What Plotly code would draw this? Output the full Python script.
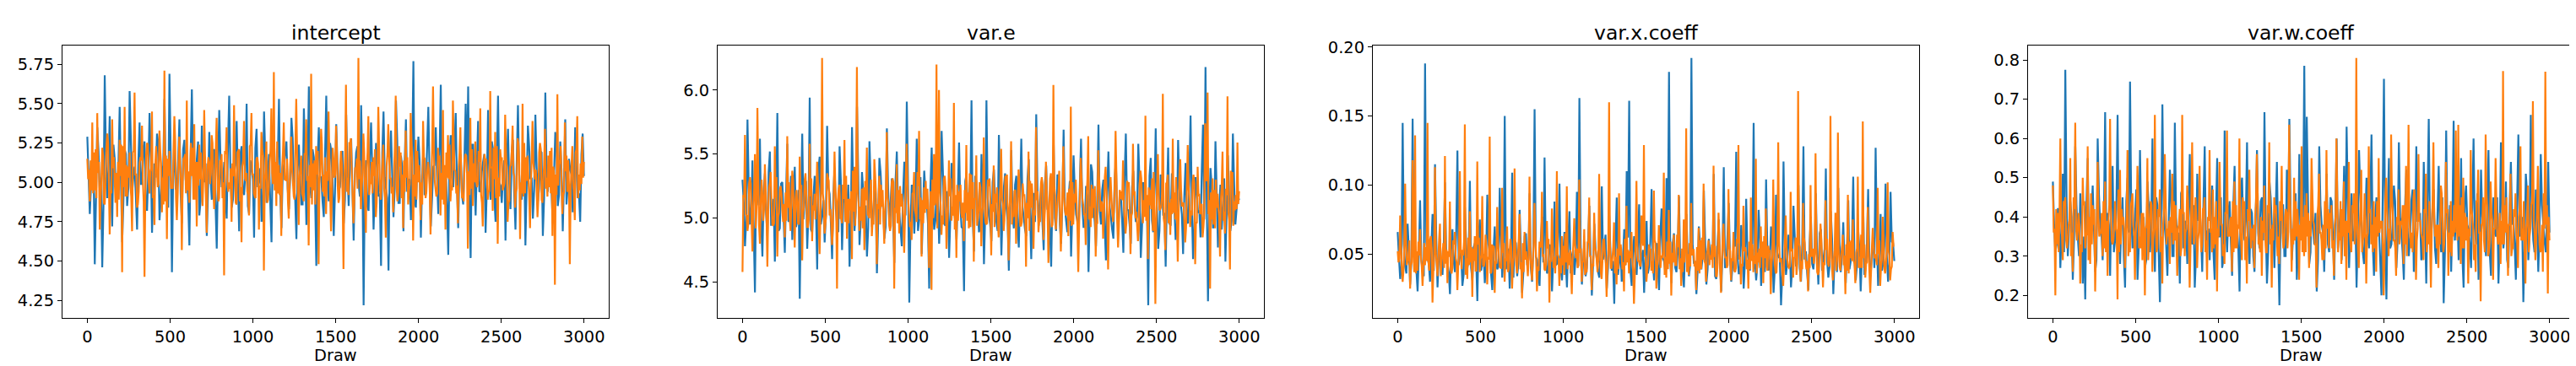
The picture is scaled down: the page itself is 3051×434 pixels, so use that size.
import numpy as np
import plotly.graph_objects as go

titles = ["intercept", "var.e", "var.x.coeff", "var.w.coeff"]
x_label = "Draw"
n_draws = 3000
x_ticks = [0, 500, 1000, 1500, 2000, 2500, 3000]

# Values. Each chain is stored as several lists holding
# interleaved readings (reading 1 from list a, reading 2 from list b, ...).
intercept_chain1_a = [
5.29, 4.80, 5.18, 4.48, 5.35, 4.95, 4.46, 5.68, 4.90, 5.42, 4.72, 5.15, 4.98, 5.48, 4.62, 5.21, 4.85, 5.58, 4.93, 5.10,
4.70, 5.38, 4.99, 5.26, 4.82, 5.44, 4.68, 5.12, 5.31, 4.76, 5.04, 5.53, 4.88, 5.69, 4.43, 5.20, 4.95, 5.40, 4.74, 5.27,
5.02, 4.60, 5.59, 4.90, 5.15, 4.79, 5.36, 5.00, 4.66, 5.32, 4.89, 5.21, 4.58, 5.46, 4.97, 5.13, 4.77, 5.55, 4.84, 5.06,
5.39, 4.69, 5.23, 4.92, 5.50, 4.80, 5.09, 4.65, 5.34, 5.01, 4.75, 5.45, 4.87, 5.18, 4.62, 5.30, 4.94, 5.53, 4.71, 5.11,
5.26, 4.83, 5.41, 4.97, 4.64, 5.24, 4.86, 5.47, 4.73, 5.61, 4.90, 5.16, 4.47, 5.35, 5.03, 4.78, 5.55, 4.88, 5.20, 4.66,
5.37, 4.95, 5.12, 4.74, 5.43, 4.85, 5.28, 4.63, 5.19, 4.99, 5.49, 4.22, 5.14, 4.82, 5.38, 4.70, 5.25, 4.91, 4.47, 5.45,
4.96, 4.44, 5.33, 4.78, 5.52, 4.87, 5.17, 4.69, 5.40, 5.01, 4.76, 5.77, 4.84, 5.29, 4.65, 5.22, 4.93, 5.48, 4.72, 5.10,
5.35, 4.80, 5.62, 4.90, 5.08, 4.54, 5.30, 4.97, 5.44, 4.71, 5.18, 4.86, 5.50, 5.61, 4.52, 5.24, 4.79, 5.39, 4.95, 5.13,
4.68, 5.46, 4.89, 5.21, 4.75, 5.55, 4.98, 5.06, 4.63, 5.34, 4.83, 5.27, 4.70, 5.49, 4.92, 5.15, 4.60, 5.36, 5.02, 4.77,
5.43, 4.88, 5.20, 4.66, 5.57, 4.94, 5.11, 4.74, 5.32, 4.85, 5.26, 4.69, 5.40, 4.97, 5.08, 4.81, 5.35, 4.90, 4.75, 5.31,
]
intercept_chain1_b = [
5.05, 4.98, 5.12, 4.90, 5.20, 5.01, 4.86, 5.15, 5.08, 4.95, 5.24, 4.92, 5.10, 5.02, 4.88, 5.18, 4.97, 5.27, 5.04, 4.91,
5.13, 4.99, 5.22, 4.87, 5.07, 5.16, 4.94, 5.03, 5.25, 4.89, 5.11, 5.00, 4.84, 5.19, 5.06, 4.96, 5.14, 4.93, 5.21, 5.02,
4.90, 5.17, 5.05, 4.98, 5.26, 4.88, 5.09, 5.12, 4.95, 5.03, 5.20, 4.86, 5.08, 5.15, 4.99, 4.92, 5.23, 5.04, 4.89, 5.11,
5.01, 5.18, 4.94, 5.07, 4.85, 5.14, 5.02, 5.22, 4.97, 5.09, 4.91, 5.16, 5.05, 4.87, 5.24, 5.00, 5.12, 4.93, 5.06, 5.19,
4.96, 5.03, 5.28, 4.90, 5.10, 5.01, 4.86, 5.15, 5.07, 4.98, 5.21, 4.92, 5.13, 5.04, 4.88, 5.17, 4.99, 5.25, 5.02, 4.94,
5.11, 4.97, 5.20, 4.89, 5.08, 5.14, 4.95, 5.05, 5.23, 4.91, 5.09, 5.01, 4.85, 5.16, 5.06, 4.98, 5.12, 4.93, 5.19, 5.03,
4.90, 5.15, 5.04, 4.96, 5.27, 4.87, 5.10, 5.13, 4.94, 5.02, 5.18, 4.88, 5.07, 5.14, 5.00, 4.92, 5.22, 5.05, 4.90, 5.11,
5.02, 5.17, 4.95, 5.08, 4.86, 5.13, 5.03, 5.21, 4.98, 5.10, 4.92, 5.15, 5.06, 4.88, 5.24, 5.01, 5.11, 4.94, 5.07, 5.18,
4.97, 5.04, 5.26, 4.91, 5.09, 5.00, 4.87, 5.14, 5.08, 4.99, 5.20, 4.93, 5.12, 5.05, 4.89, 5.16, 4.98, 5.23, 5.03, 4.95,
5.10, 4.96, 5.19, 4.90, 5.07, 5.13, 4.94, 5.04, 5.22, 4.92, 5.08, 5.02, 4.86, 5.15, 5.05, 4.97, 5.11, 4.93, 5.18, 5.04,
]
intercept_chain2_a = [
5.15, 4.88, 5.38, 4.95, 5.44, 4.70, 5.22, 4.86, 5.31, 4.67, 5.40, 5.02, 4.78, 5.27, 4.43, 5.48, 4.91, 5.19, 4.69, 5.57,
4.84, 5.12, 5.36, 4.40, 5.25, 4.93, 5.45, 4.73, 5.08, 5.33, 4.81, 5.71, 4.64, 5.20, 4.98, 5.42, 4.76, 5.29, 4.57, 5.16,
5.52, 4.87, 5.04, 5.37, 4.72, 5.24, 4.95, 5.46, 4.68, 5.13, 5.30, 4.83, 5.41, 4.90, 5.18, 4.41, 5.35, 5.00, 4.75, 5.49,
4.86, 5.21, 4.62, 5.39, 5.06, 4.79, 5.44, 4.93, 5.15, 4.70, 5.32, 4.44, 5.26, 4.97, 5.47, 5.70, 4.85, 5.11, 4.66, 5.38,
5.01, 4.77, 5.29, 4.91, 5.53, 4.73, 5.17, 4.88, 5.40, 4.60, 5.69, 4.95, 5.23, 4.48, 5.34, 5.05, 4.80, 5.45, 4.69, 5.14,
5.36, 4.87, 5.20, 4.45, 5.62, 4.92, 5.28, 4.74, 5.09, 5.79, 4.83, 5.31, 4.68, 5.42, 4.99, 5.16, 4.78, 5.48, 4.89, 5.24,
4.65, 5.37, 5.03, 4.81, 5.55, 4.94, 5.19, 4.71, 5.33, 4.86, 5.44, 4.63, 5.27, 5.00, 4.76, 5.39, 4.90, 5.13, 4.67, 5.61,
4.96, 5.22, 4.79, 5.46, 4.70, 5.30, 4.88, 5.52, 5.07, 4.74, 5.35, 4.92, 5.18, 4.58, 5.41, 4.85, 5.26, 4.99, 5.47, 4.72,
5.14, 4.89, 5.58, 4.82, 5.32, 4.61, 5.21, 4.95, 5.43, 4.75, 5.10, 5.36, 4.84, 5.28, 4.64, 5.50, 4.93, 5.17, 4.71, 5.39,
5.02, 4.78, 5.25, 4.87, 5.34, 4.91, 5.20, 4.66, 4.35, 5.56, 5.12, 4.80, 5.38, 4.94, 4.48, 5.23, 4.76, 5.42, 4.95, 5.29,
]
intercept_chain2_b = [
5.02, 5.14, 4.93, 5.21, 5.06, 4.89, 5.17, 5.00, 5.26, 4.95, 5.09, 4.87, 5.13, 5.04, 5.23, 4.91, 5.10, 4.98, 5.19, 5.05,
4.86, 5.16, 5.01, 4.94, 5.24, 5.07, 4.90, 5.12, 4.97, 5.20, 5.03, 4.88, 5.15, 5.08, 4.96, 5.27, 4.92, 5.11, 5.00, 5.18,
4.95, 5.06, 5.22, 4.89, 5.13, 5.02, 4.85, 5.17, 5.09, 4.99, 5.25, 4.93, 5.04, 5.14, 4.90, 5.20, 5.01, 4.96, 5.12, 5.07,
5.19, 4.88, 5.10, 5.03, 4.94, 5.23, 5.05, 4.91, 5.16, 4.98, 5.21, 5.00, 4.87, 5.13, 5.06, 4.95, 5.26, 4.92, 5.09, 5.02,
5.15, 4.97, 5.08, 4.89, 5.22, 5.04, 4.93, 5.18, 5.01, 5.11, 4.86, 5.14, 5.05, 4.99, 5.24, 4.91, 5.07, 5.17, 4.95, 5.03,
5.20, 4.90, 5.12, 5.00, 4.94, 5.25, 5.06, 4.88, 5.15, 5.02, 4.97, 5.19, 5.09, 4.92, 5.13, 5.04, 4.87, 5.22, 5.01, 4.96,
5.10, 5.18, 4.93, 5.07, 4.99, 5.23, 4.90, 5.14, 5.03, 4.95, 5.28, 5.05, 4.89, 5.11, 5.00, 5.16, 4.94, 5.08, 4.97, 5.21,
4.91, 5.13, 5.06, 4.86, 5.19, 5.02, 4.98, 5.24, 4.93, 5.10, 5.04, 4.88, 5.17, 5.07, 4.96, 5.12, 5.01, 5.20, 4.92, 5.05,
5.15, 4.95, 5.09, 5.22, 4.90, 5.03, 5.14, 4.97, 5.18, 4.87, 5.11, 5.06, 4.94, 5.25, 5.00, 4.91, 5.16, 5.04, 4.99, 5.13,
5.08, 4.89, 5.21, 5.02, 4.96, 5.17, 4.93, 5.10, 5.05, 4.98, 5.23, 4.92, 5.07, 5.14, 4.95, 5.01, 5.19, 4.90, 5.12, 5.03,
]
intercept_chain2_c = [
5.08, 4.95, 5.19, 4.90, 5.13, 5.02, 4.87, 5.22, 5.00, 4.93, 5.16, 5.06, 4.89, 5.24, 4.97, 5.11, 5.03, 4.91, 5.20, 5.05,
4.94, 5.14, 4.88, 5.18, 5.01, 5.09, 4.92, 5.23, 4.99, 5.12, 4.86, 5.17, 5.04, 4.96, 5.21, 4.90, 5.10, 5.02, 5.15, 4.93,
5.07, 5.25, 4.89, 5.13, 4.98, 5.19, 5.03, 4.91, 5.16, 5.06, 4.95, 5.22, 4.88, 5.11, 5.00, 5.18, 4.94, 5.09, 5.04, 4.87,
5.20, 4.97, 5.14, 5.01, 4.92, 5.24, 5.05, 4.90, 5.12, 4.96, 5.17, 5.08, 4.89, 5.21, 4.99, 5.13, 4.93, 5.06, 5.19, 5.02,
4.88, 5.15, 5.00, 5.23, 4.95, 5.10, 4.91, 5.18, 5.04, 4.97, 5.12, 4.86, 5.20, 5.07, 4.94, 5.16, 5.01, 4.90, 5.22, 5.05,
4.98, 5.11, 4.89, 5.17, 5.03, 5.25, 4.92, 5.09, 4.96, 5.14, 5.06, 4.87, 5.19, 5.00, 4.93, 5.21, 5.08, 4.95, 5.13, 4.90,
5.18, 5.02, 4.97, 5.23, 4.88, 5.10, 5.05, 4.94, 5.16, 4.99, 5.12, 4.91, 5.20, 5.04, 4.86, 5.15, 5.07, 4.96, 5.22, 5.01,
4.93, 5.17, 4.89, 5.11, 5.03, 5.24, 4.95, 5.08, 4.98, 5.19, 4.90, 5.14, 5.06, 4.92, 5.21, 5.00, 4.97, 5.13, 4.87, 5.18,
5.05, 4.94, 5.10, 5.02, 5.23, 4.91, 5.16, 4.99, 5.09, 4.88, 5.20, 5.04, 4.96, 5.12, 4.93, 5.25, 5.01, 4.90, 5.15, 5.07,
4.95, 5.19, 4.89, 5.11, 5.03, 4.97, 5.22, 5.06, 4.92, 5.14, 5.00, 4.94, 5.17, 4.98, 5.10, 4.91, 5.21, 5.05, 4.99, 5.13,
]

var_e_chain1_a = [
5.30, 4.78, 5.77, 4.95, 5.45, 4.42, 5.20, 5.62, 4.70, 5.35, 4.86, 5.52, 5.05, 4.66, 5.82, 4.92, 5.28, 4.73, 5.58, 5.10,
4.83, 5.40, 4.98, 4.37, 5.66, 5.15, 4.76, 5.94, 4.89, 5.33, 4.60, 5.48, 5.02, 4.81, 5.72, 5.19, 4.68, 5.39, 4.94, 5.56,
4.75, 5.25, 5.08, 4.62, 5.71, 4.90, 5.87, 4.79, 5.36, 5.01, 4.70, 5.60, 4.93, 5.22, 4.57, 5.47, 5.12, 4.84, 5.70, 4.97,
5.31, 4.65, 5.52, 5.04, 4.78, 5.44, 5.91, 4.34, 5.26, 4.88, 5.62, 4.99, 4.72, 5.37, 5.14, 4.45, 5.55, 4.91, 5.29, 4.80,
5.68, 4.96, 5.21, 4.69, 5.43, 5.06, 4.83, 5.59, 4.93, 4.43, 5.34, 5.10, 5.92, 4.74, 5.28, 4.89, 5.50, 4.64, 5.92, 5.02,
4.82, 5.38, 4.97, 5.65, 4.71, 5.24, 5.09, 4.59, 5.53, 4.92, 5.33, 4.77, 5.62, 5.00, 4.86, 5.46, 4.68, 5.19, 5.81, 4.94,
5.27, 4.75, 5.41, 5.05, 4.62, 5.57, 4.90, 5.32, 4.80, 5.69, 4.98, 5.16, 4.70, 5.49, 5.03, 4.85, 5.62, 4.93, 5.25, 4.58,
5.42, 5.08, 4.78, 5.73, 4.95, 5.30, 4.67, 5.52, 5.01, 4.84, 5.45, 4.91, 5.20, 4.73, 5.66, 5.06, 4.80, 5.37, 4.97, 5.58,
4.69, 5.28, 5.11, 4.32, 5.47, 4.89, 5.70, 4.76, 5.34, 5.02, 4.62, 5.55, 4.94, 5.21, 4.83, 5.61, 5.13, 4.72, 5.43, 4.96,
5.80, 4.68, 5.32, 5.04, 4.85, 5.73, 6.18, 4.35, 5.39, 4.92, 5.60, 4.77, 5.26, 5.08, 4.66, 5.49, 4.90, 5.66, 4.95, 5.18,
]
var_e_chain1_b = [
5.12, 4.98, 5.25, 5.05, 4.92, 5.31, 5.10, 4.96, 5.20, 5.03, 5.36, 4.94, 5.15, 5.08, 4.90, 5.27, 5.01, 5.18, 4.97, 5.33,
5.06, 4.93, 5.22, 5.11, 4.99, 5.29, 5.04, 4.91, 5.17, 5.09, 5.38, 4.95, 5.14, 5.02, 5.24, 4.96, 5.19, 5.07, 4.89, 5.30,
5.13, 5.00, 5.26, 4.94, 5.16, 5.05, 5.34, 4.98, 5.21, 5.10, 4.92, 5.28, 5.03, 5.15, 4.97, 5.35, 5.08, 4.93, 5.23, 5.12,
4.99, 5.30, 5.06, 4.91, 5.18, 5.02, 5.27, 4.95, 5.14, 5.09, 4.90, 5.32, 5.04, 5.20, 4.96, 5.25, 5.11, 4.98, 5.17, 5.07,
5.37, 4.94, 5.13, 5.01, 5.24, 4.97, 5.19, 5.10, 4.92, 5.29, 5.05, 5.15, 4.99, 5.33, 5.08, 4.93, 5.22, 5.03, 5.16, 4.95,
5.28, 5.12, 4.90, 5.21, 5.06, 5.35, 4.98, 5.14, 5.02, 5.26, 4.94, 5.18, 5.09, 4.91, 5.31, 5.04, 5.19, 4.97, 5.23, 5.11,
4.96, 5.27, 5.07, 4.92, 5.16, 5.00, 5.34, 4.95, 5.13, 5.08, 4.89, 5.29, 5.05, 5.21, 4.98, 5.25, 5.10, 4.93, 5.18, 5.03,
5.36, 4.97, 5.15, 5.06, 5.22, 4.94, 5.20, 5.09, 4.91, 5.30, 5.02, 5.17, 4.99, 5.32, 5.07, 4.95, 5.24, 5.12, 5.01, 5.28,
4.93, 5.14, 5.05, 5.33, 4.98, 5.19, 5.10, 4.90, 5.26, 5.04, 5.16, 4.96, 5.35, 5.08, 4.94, 5.23, 5.03, 5.18, 4.97, 5.29,
5.11, 4.92, 5.21, 5.06, 5.37, 4.99, 5.15, 5.02, 5.25, 4.95, 5.20, 5.09, 4.91, 5.31, 5.05, 5.17, 4.98, 5.27, 5.07, 5.14,
]
var_e_chain2_a = [
4.58, 5.65, 4.90, 5.32, 4.74, 5.50, 5.86, 4.80, 5.18, 5.42, 4.62, 5.28, 4.95, 5.56, 4.70, 5.22, 5.06, 4.85, 5.64, 4.99,
5.37, 4.77, 5.13, 5.48, 4.67, 5.30, 4.93, 5.58, 4.82, 5.19, 5.44, 4.72, 6.25, 4.88, 5.35, 5.02, 4.79, 5.52, 4.45, 5.26,
4.96, 5.61, 4.84, 5.15, 4.68, 5.40, 6.18, 4.90, 5.23, 4.75, 5.55, 5.00, 4.86, 5.46, 4.64, 5.33, 5.09, 4.80, 5.67, 4.94,
5.28, 4.45, 5.42, 4.88, 5.19, 4.73, 5.58, 5.03, 4.83, 5.36, 4.97, 5.68, 4.70, 5.24, 5.07, 4.61, 4.44, 5.50, 6.20, 6.00,
4.87, 5.31, 4.76, 5.45, 4.98, 5.90, 4.69, 5.21, 5.04, 4.82, 5.57, 4.92, 5.34, 4.66, 5.49, 5.06, 4.78, 5.63, 4.95, 5.25,
4.71, 5.41, 5.12, 4.85, 5.54, 4.90, 5.29, 4.67, 5.60, 5.01, 4.80, 5.38, 4.94, 5.18, 4.62, 5.52, 5.08, 4.76, 5.71, 4.89,
5.27, 4.83, 5.44, 4.65, 5.35, 6.04, 4.91, 5.20, 4.74, 5.56, 5.02, 4.86, 5.87, 4.95, 5.30, 4.58, 5.47, 5.10, 4.79, 5.64,
4.93, 5.23, 4.70, 5.53, 5.05, 4.84, 5.40, 4.60, 5.32, 4.97, 5.68, 4.77, 5.15, 5.45, 4.88, 5.26, 4.72, 5.58, 5.00, 4.82,
5.37, 4.96, 5.80, 4.68, 5.22, 4.90, 4.33, 5.50, 5.07, 5.97, 4.75, 5.34, 4.87, 5.62, 4.99, 4.66, 5.46, 5.11, 4.81, 5.57,
4.93, 5.28, 4.64, 5.40, 5.03, 4.85, 5.74, 5.98, 4.45, 5.31, 4.92, 5.19, 4.70, 5.52, 4.88, 5.95, 4.60, 5.36, 5.06, 5.59,
]
var_e_chain2_b = [
5.18, 5.03, 4.95, 5.27, 5.09, 4.92, 5.33, 5.12, 4.98, 5.22, 5.05, 5.36, 4.94, 5.16, 5.01, 5.25, 4.97, 5.20, 5.08, 4.90,
5.30, 5.14, 4.96, 5.23, 5.04, 5.35, 4.93, 5.17, 5.10, 4.99, 5.28, 5.02, 5.19, 4.95, 5.32, 5.07, 4.91, 5.24, 5.13, 5.00,
5.26, 4.97, 5.15, 5.06, 5.37, 4.94, 5.21, 5.09, 4.92, 5.29, 5.03, 5.18, 4.98, 5.34, 5.11, 4.95, 5.22, 5.05, 5.16, 4.90,
5.31, 5.08, 4.96, 5.25, 5.12, 5.01, 5.27, 4.93, 5.19, 5.06, 5.36, 4.99, 5.14, 5.04, 5.23, 4.97, 5.30, 5.10, 4.92, 5.20,
5.02, 5.33, 4.95, 5.17, 5.09, 4.91, 5.26, 5.13, 5.00, 5.22, 4.98, 5.35, 5.07, 5.15, 4.94, 5.28, 5.03, 5.19, 4.96, 5.31,
5.11, 4.93, 5.24, 5.05, 5.16, 4.99, 5.34, 5.08, 4.95, 5.21, 5.02, 5.29, 4.97, 5.18, 5.12, 4.90, 5.27, 5.06, 5.14, 5.00,
5.32, 4.96, 5.20, 5.09, 4.93, 5.25, 5.04, 5.37, 4.98, 5.15, 5.07, 5.23, 4.94, 5.19, 5.11, 4.92, 5.30, 5.03, 5.17, 4.99,
5.26, 5.08, 4.95, 5.33, 5.13, 5.01, 5.22, 4.97, 5.16, 5.06, 5.35, 4.93, 5.21, 5.10, 4.96, 5.28, 5.02, 5.18, 5.05, 4.91,
5.31, 5.14, 4.98, 5.24, 5.07, 5.36, 4.94, 5.19, 5.09, 5.00, 5.27, 4.96, 5.15, 5.04, 5.32, 4.99, 5.22, 5.12, 4.92, 5.25,
5.06, 5.34, 4.97, 5.17, 5.10, 4.93, 5.29, 5.03, 5.20, 4.95, 5.30, 5.08, 5.14, 4.98, 5.23, 5.05, 5.37, 4.94, 5.18, 5.11,
]
var_e_chain2_c = [
5.16, 5.02, 5.27, 4.97, 5.21, 5.09, 4.94, 5.30, 5.07, 5.00, 5.24, 5.13, 4.96, 5.32, 5.04, 5.19, 5.11, 4.98, 5.28, 5.12,
5.01, 5.22, 4.95, 5.26, 5.08, 5.17, 4.99, 5.31, 5.06, 5.20, 4.93, 5.25, 5.12, 5.03, 5.29, 4.97, 5.18, 5.10, 5.23, 5.00,
5.15, 5.33, 4.96, 5.21, 5.05, 5.27, 5.11, 4.98, 5.24, 5.14, 5.02, 5.30, 4.95, 5.19, 5.07, 5.26, 5.01, 5.17, 5.12, 4.94,
5.28, 5.04, 5.22, 5.09, 4.99, 5.32, 5.13, 4.97, 5.20, 5.03, 5.25, 5.16, 4.96, 5.29, 5.06, 5.21, 5.00, 5.14, 5.27, 5.10,
4.95, 5.23, 5.08, 5.31, 5.02, 5.18, 4.98, 5.26, 5.12, 5.04, 5.20, 4.93, 5.28, 5.15, 5.01, 5.24, 5.09, 4.97, 5.30, 5.13,
5.05, 5.19, 4.96, 5.25, 5.11, 5.33, 4.99, 5.17, 5.03, 5.22, 5.14, 4.94, 5.27, 5.07, 5.00, 5.29, 5.16, 5.02, 5.21, 4.97,
5.26, 5.10, 5.04, 5.31, 4.95, 5.18, 5.13, 5.01, 5.24, 5.06, 5.20, 4.98, 5.28, 5.12, 4.93, 5.23, 5.15, 5.03, 5.30, 5.09,
5.00, 5.25, 4.96, 5.19, 5.11, 5.32, 5.02, 5.16, 5.05, 5.27, 4.97, 5.22, 5.14, 4.99, 5.29, 5.07, 5.04, 5.21, 4.94, 5.26,
5.13, 5.01, 5.18, 5.10, 5.31, 4.98, 5.24, 5.06, 5.17, 4.95, 5.28, 5.12, 5.03, 5.20, 5.00, 5.33, 5.09, 4.97, 5.23, 5.15,
5.02, 5.27, 4.96, 5.19, 5.11, 5.04, 5.30, 5.14, 4.99, 5.22, 5.08, 5.01, 5.25, 5.05, 5.18, 4.98, 5.29, 5.13, 5.07, 5.21,
]

var_x_chain1_a = [
0.066, 0.032, 0.145, 0.041, 0.072, 0.028, 0.148, 0.055, 0.023, 0.089, 0.038, 0.188, 0.047, 0.030, 0.079, 0.115, 0.026, 0.061, 0.035, 0.102,
0.044, 0.021, 0.068, 0.037, 0.125, 0.050, 0.027, 0.084, 0.040, 0.103, 0.031, 0.058, 0.016, 0.075, 0.045, 0.029, 0.093, 0.052, 0.024, 0.070,
0.039, 0.098, 0.033, 0.150, 0.048, 0.025, 0.109, 0.060, 0.034, 0.082, 0.022, 0.063, 0.042, 0.094, 0.030, 0.155, 0.046, 0.027, 0.077, 0.120,
0.036, 0.057, 0.023, 0.088, 0.043, 0.101, 0.031, 0.066, 0.026, 0.081, 0.049, 0.035, 0.095, 0.163, 0.028, 0.059, 0.040, 0.085, 0.020, 0.072,
0.046, 0.033, 0.099, 0.054, 0.025, 0.078, 0.038, 0.014, 0.091, 0.044, 0.030, 0.068, 0.110, 0.161, 0.027, 0.063, 0.035, 0.086, 0.048, 0.022,
0.074, 0.041, 0.097, 0.031, 0.058, 0.024, 0.083, 0.045, 0.105, 0.182, 0.029, 0.065, 0.037, 0.092, 0.050, 0.026, 0.079, 0.034, 0.192, 0.043,
0.021, 0.070, 0.039, 0.096, 0.028, 0.061, 0.047, 0.108, 0.032, 0.075, 0.023, 0.113, 0.042, 0.087, 0.030, 0.056, 0.124, 0.036, 0.071, 0.025,
0.090, 0.044, 0.066, 0.145, 0.031, 0.082, 0.027, 0.059, 0.104, 0.038, 0.070, 0.022, 0.093, 0.048, 0.013, 0.117, 0.035, 0.064, 0.026, 0.085,
0.041, 0.100, 0.030, 0.128, 0.052, 0.024, 0.077, 0.039, 0.094, 0.028, 0.068, 0.046, 0.112, 0.033, 0.081, 0.021, 0.060, 0.098, 0.037, 0.073,
0.029, 0.089, 0.045, 0.106, 0.031, 0.067, 0.023, 0.084, 0.040, 0.097, 0.034, 0.062, 0.127, 0.027, 0.079, 0.043, 0.101, 0.030, 0.095, 0.058,
]
var_x_chain1_b = [
0.048, 0.041, 0.057, 0.036, 0.052, 0.044, 0.063, 0.039, 0.050, 0.046, 0.034, 0.059, 0.043, 0.054, 0.038, 0.061, 0.047, 0.040, 0.056, 0.049,
0.037, 0.053, 0.045, 0.064, 0.042, 0.051, 0.035, 0.058, 0.046, 0.040, 0.055, 0.048, 0.062, 0.038, 0.050, 0.044, 0.057, 0.036, 0.053, 0.047,
0.041, 0.060, 0.049, 0.039, 0.054, 0.045, 0.033, 0.058, 0.043, 0.052, 0.037, 0.065, 0.046, 0.040, 0.056, 0.048, 0.035, 0.061, 0.044, 0.051,
0.038, 0.055, 0.047, 0.042, 0.063, 0.039, 0.050, 0.045, 0.059, 0.036, 0.053, 0.048, 0.041, 0.057, 0.044, 0.034, 0.060, 0.049, 0.043, 0.054,
0.037, 0.052, 0.046, 0.064, 0.040, 0.050, 0.045, 0.058, 0.035, 0.055, 0.047, 0.042, 0.062, 0.038, 0.051, 0.044, 0.056, 0.039, 0.053, 0.048,
0.036, 0.059, 0.045, 0.050, 0.041, 0.063, 0.047, 0.037, 0.054, 0.046, 0.058, 0.040, 0.052, 0.044, 0.035, 0.060, 0.049, 0.042, 0.057, 0.045,
0.038, 0.055, 0.048, 0.061, 0.039, 0.051, 0.046, 0.034, 0.058, 0.043, 0.053, 0.040, 0.064, 0.047, 0.041, 0.056, 0.049, 0.036, 0.059, 0.044,
0.052, 0.038, 0.057, 0.046, 0.042, 0.062, 0.048, 0.037, 0.054, 0.045, 0.060, 0.039, 0.051, 0.047, 0.035, 0.058, 0.044, 0.055, 0.041, 0.063,
0.049, 0.040, 0.056, 0.046, 0.036, 0.059, 0.043, 0.052, 0.048, 0.065, 0.038, 0.054, 0.045, 0.041, 0.061, 0.047, 0.037, 0.057, 0.050, 0.043,
0.055, 0.039, 0.060, 0.046, 0.042, 0.053, 0.048, 0.035, 0.058, 0.044, 0.051, 0.040, 0.062, 0.047, 0.038, 0.056, 0.049, 0.043, 0.059, 0.045,
]
var_x_chain2_a = [
0.052, 0.078, 0.030, 0.101, 0.045, 0.025, 0.118, 0.136, 0.038, 0.068, 0.027, 0.042, 0.145, 0.060, 0.015, 0.113, 0.034, 0.072, 0.048, 0.121,
0.029, 0.088, 0.040, 0.066, 0.024, 0.110, 0.053, 0.144, 0.032, 0.081, 0.019, 0.063, 0.117, 0.037, 0.092, 0.046, 0.028, 0.135, 0.057, 0.022,
0.084, 0.041, 0.098, 0.030, 0.070, 0.052, 0.025, 0.112, 0.036, 0.079, 0.018, 0.066, 0.044, 0.106, 0.031, 0.087, 0.023, 0.059, 0.095, 0.039,
0.074, 0.015, 0.083, 0.048, 0.110, 0.027, 0.063, 0.035, 0.099, 0.042, 0.021, 0.076, 0.054, 0.104, 0.030, 0.068, 0.037, 0.091, 0.024, 0.080,
0.046, 0.108, 0.032, 0.061, 0.019, 0.160, 0.040, 0.073, 0.028, 0.094, 0.050, 0.023, 0.085, 0.036, 0.066, 0.014, 0.103, 0.045, 0.078, 0.129,
0.030, 0.057, 0.038, 0.096, 0.025, 0.071, 0.049, 0.109, 0.033, 0.082, 0.020, 0.064, 0.042, 0.093, 0.027, 0.075, 0.141, 0.035, 0.087, 0.053,
0.024, 0.069, 0.039, 0.101, 0.030, 0.060, 0.046, 0.114, 0.034, 0.080, 0.022, 0.072, 0.048, 0.097, 0.031, 0.066, 0.040, 0.129, 0.028, 0.085,
0.052, 0.025, 0.091, 0.037, 0.119, 0.044, 0.070, 0.029, 0.083, 0.056, 0.021, 0.104, 0.036, 0.131, 0.047, 0.027, 0.078, 0.041, 0.095, 0.033,
0.062, 0.168, 0.030, 0.087, 0.045, 0.023, 0.100, 0.054, 0.123, 0.035, 0.072, 0.026, 0.089, 0.043, 0.150, 0.031, 0.080, 0.138, 0.038, 0.064,
0.021, 0.093, 0.047, 0.075, 0.029, 0.106, 0.040, 0.146, 0.033, 0.084, 0.022, 0.069, 0.050, 0.098, 0.027, 0.077, 0.036, 0.102, 0.031, 0.066,
]
var_x_chain2_b = [
0.044, 0.056, 0.038, 0.061, 0.047, 0.042, 0.053, 0.036, 0.059, 0.048, 0.040, 0.055, 0.045, 0.063, 0.037, 0.051, 0.046, 0.034, 0.058, 0.043,
0.052, 0.039, 0.060, 0.047, 0.041, 0.056, 0.049, 0.035, 0.062, 0.044, 0.054, 0.038, 0.057, 0.046, 0.042, 0.064, 0.048, 0.036, 0.053, 0.045,
0.059, 0.040, 0.051, 0.047, 0.037, 0.061, 0.043, 0.055, 0.049, 0.039, 0.058, 0.046, 0.034, 0.052, 0.044, 0.063, 0.041, 0.056, 0.048, 0.038,
0.054, 0.045, 0.060, 0.036, 0.050, 0.047, 0.042, 0.065, 0.039, 0.053, 0.046, 0.057, 0.040, 0.051, 0.044, 0.035, 0.059, 0.048, 0.043, 0.055,
0.037, 0.062, 0.045, 0.050, 0.041, 0.058, 0.047, 0.036, 0.054, 0.049, 0.039, 0.061, 0.044, 0.052, 0.046, 0.034, 0.057, 0.042, 0.063, 0.048,
0.038, 0.053, 0.045, 0.060, 0.040, 0.056, 0.047, 0.035, 0.059, 0.043, 0.051, 0.046, 0.064, 0.039, 0.054, 0.044, 0.037, 0.058, 0.049, 0.041,
0.055, 0.036, 0.062, 0.045, 0.050, 0.042, 0.057, 0.048, 0.034, 0.060, 0.044, 0.053, 0.040, 0.056, 0.047, 0.038, 0.061, 0.046, 0.043, 0.052,
0.039, 0.059, 0.045, 0.049, 0.036, 0.054, 0.048, 0.063, 0.041, 0.051, 0.044, 0.057, 0.037, 0.060, 0.046, 0.042, 0.055, 0.040, 0.052, 0.047,
0.035, 0.058, 0.045, 0.062, 0.039, 0.050, 0.048, 0.043, 0.056, 0.037, 0.061, 0.044, 0.053, 0.041, 0.059, 0.046, 0.038, 0.054, 0.049, 0.042,
0.057, 0.036, 0.060, 0.045, 0.051, 0.040, 0.064, 0.047, 0.043, 0.055, 0.038, 0.058, 0.046, 0.050, 0.041, 0.062, 0.044, 0.053, 0.039, 0.056,
]
var_x_chain2_c = [
0.047, 0.039, 0.055, 0.042, 0.060, 0.044, 0.037, 0.052, 0.049, 0.041, 0.058, 0.045, 0.038, 0.054, 0.050, 0.043, 0.061, 0.046, 0.040, 0.053,
0.048, 0.036, 0.057, 0.044, 0.051, 0.039, 0.059, 0.047, 0.042, 0.055, 0.045, 0.038, 0.062, 0.049, 0.041, 0.053, 0.046, 0.037, 0.056, 0.043,
0.050, 0.040, 0.058, 0.045, 0.039, 0.054, 0.048, 0.042, 0.060, 0.044, 0.037, 0.052, 0.047, 0.041, 0.057, 0.046, 0.038, 0.055, 0.050, 0.043,
0.061, 0.045, 0.040, 0.053, 0.048, 0.036, 0.056, 0.044, 0.051, 0.039, 0.059, 0.047, 0.042, 0.054, 0.045, 0.038, 0.058, 0.049, 0.041, 0.052,
0.046, 0.037, 0.060, 0.043, 0.050, 0.040, 0.055, 0.048, 0.039, 0.057, 0.044, 0.042, 0.053, 0.047, 0.038, 0.061, 0.045, 0.041, 0.056, 0.049,
0.043, 0.054, 0.036, 0.058, 0.046, 0.040, 0.052, 0.048, 0.039, 0.059, 0.044, 0.042, 0.055, 0.047, 0.037, 0.057, 0.050, 0.041, 0.053, 0.045,
0.038, 0.060, 0.046, 0.043, 0.054, 0.049, 0.040, 0.056, 0.044, 0.039, 0.062, 0.047, 0.042, 0.052, 0.045, 0.037, 0.058, 0.048, 0.041, 0.055,
0.046, 0.039, 0.057, 0.043, 0.051, 0.040, 0.059, 0.047, 0.038, 0.053, 0.049, 0.042, 0.056, 0.044, 0.036, 0.060, 0.046, 0.041, 0.054, 0.048,
0.043, 0.055, 0.039, 0.058, 0.045, 0.040, 0.052, 0.050, 0.037, 0.057, 0.044, 0.042, 0.061, 0.047, 0.039, 0.053, 0.046, 0.041, 0.056, 0.049,
0.038, 0.059, 0.045, 0.043, 0.054, 0.048, 0.040, 0.057, 0.044, 0.037, 0.055, 0.047, 0.042, 0.060, 0.046, 0.039, 0.052, 0.049, 0.041, 0.056,
]

var_w_chain1_a = [
0.49, 0.31, 0.42, 0.27, 0.51, 0.775, 0.30, 0.44, 0.24, 0.58, 0.35, 0.46, 0.23, 0.19, 0.55, 0.33, 0.48, 0.26, 0.60, 0.38,
0.29, 0.667, 0.41, 0.25, 0.53, 0.34, 0.66, 0.28, 0.45, 0.22, 0.50, 0.745, 0.32, 0.40, 0.24, 0.57, 0.36, 0.27, 0.49, 0.31,
0.60, 0.26, 0.43, 0.183, 0.687, 0.37, 0.25, 0.52, 0.30, 0.64, 0.34, 0.23, 0.47, 0.39, 0.28, 0.56, 0.33, 0.22, 0.51, 0.42,
0.26, 0.58, 0.36, 0.29, 0.48, 0.24, 0.55, 0.35, 0.27, 0.62, 0.31, 0.44, 0.25, 0.53, 0.38, 0.21, 0.50, 0.34, 0.59, 0.28,
0.41, 0.26, 0.57, 0.32, 0.45, 0.667, 0.23, 0.49, 0.37, 0.27, 0.54, 0.175, 0.43, 0.30, 0.52, 0.650, 0.29, 0.40, 0.24, 0.56,
0.35, 0.785, 0.655, 0.28, 0.47, 0.33, 0.21, 0.58, 0.38, 0.26, 0.51, 0.31, 0.44, 0.24, 0.60, 0.36, 0.29, 0.53, 0.63, 0.27,
0.46, 0.34, 0.22, 0.57, 0.39, 0.28, 0.50, 0.32, 0.61, 0.25, 0.45, 0.37, 0.20, 0.752, 0.19, 0.55, 0.33, 0.48, 0.27, 0.59,
0.36, 0.24, 0.52, 0.30, 0.44, 0.26, 0.58, 0.39, 0.29, 0.54, 0.23, 0.650, 0.35, 0.47, 0.28, 0.53, 0.31, 0.18, 0.62, 0.34,
0.26, 0.645, 0.41, 0.29, 0.55, 0.22, 0.48, 0.37, 0.27, 0.60, 0.33, 0.24, 0.52, 0.38, 0.30, 0.57, 0.25, 0.45, 0.35, 0.23,
0.59, 0.32, 0.49, 0.27, 0.54, 0.40, 0.24, 0.61, 0.36, 0.183, 0.51, 0.29, 0.660, 0.34, 0.47, 0.26, 0.56, 0.38, 0.31, 0.54,
]
var_w_chain1_b = [
0.38, 0.33, 0.42, 0.36, 0.31, 0.45, 0.37, 0.40, 0.34, 0.43, 0.30, 0.39, 0.35, 0.44, 0.32, 0.41, 0.37, 0.29, 0.46, 0.36,
0.40, 0.33, 0.38, 0.43, 0.31, 0.42, 0.35, 0.39, 0.30, 0.44, 0.36, 0.41, 0.34, 0.47, 0.32, 0.38, 0.40, 0.29, 0.43, 0.37,
0.35, 0.45, 0.31, 0.39, 0.42, 0.33, 0.37, 0.44, 0.30, 0.40, 0.36, 0.46, 0.32, 0.38, 0.41, 0.34, 0.43, 0.30, 0.39, 0.36,
0.44, 0.33, 0.37, 0.42, 0.31, 0.40, 0.35, 0.45, 0.29, 0.38, 0.41, 0.34, 0.43, 0.36, 0.32, 0.47, 0.37, 0.39, 0.33, 0.42,
0.30, 0.40, 0.36, 0.44, 0.34, 0.38, 0.31, 0.45, 0.37, 0.41, 0.33, 0.39, 0.43, 0.30, 0.36, 0.42, 0.35, 0.46, 0.32, 0.38,
0.40, 0.34, 0.44, 0.31, 0.37, 0.41, 0.29, 0.43, 0.36, 0.39, 0.33, 0.45, 0.35, 0.40, 0.32, 0.42, 0.37, 0.30, 0.44, 0.38,
0.34, 0.41, 0.36, 0.46, 0.31, 0.39, 0.35, 0.43, 0.33, 0.40, 0.37, 0.29, 0.45, 0.36, 0.42, 0.32, 0.38, 0.44, 0.34, 0.40,
0.31, 0.43, 0.37, 0.35, 0.47, 0.33, 0.39, 0.41, 0.30, 0.38, 0.44, 0.36, 0.42, 0.32, 0.40, 0.35, 0.45, 0.31, 0.37, 0.43,
0.39, 0.34, 0.41, 0.36, 0.30, 0.44, 0.38, 0.33, 0.42, 0.37, 0.46, 0.32, 0.40, 0.35, 0.43, 0.31, 0.39, 0.36, 0.45, 0.34,
0.41, 0.37, 0.29, 0.43, 0.38, 0.33, 0.44, 0.35, 0.40, 0.32, 0.46, 0.36, 0.42, 0.31, 0.39, 0.37, 0.43, 0.34, 0.40, 0.36,
]
var_w_chain2_a = [
0.48, 0.20, 0.41, 0.60, 0.29, 0.45, 0.34, 0.55, 0.26, 0.64, 0.37, 0.23, 0.50, 0.32, 0.58, 0.28, 0.43, 0.21, 0.54, 0.36,
0.30, 0.49, 0.25, 0.65, 0.33, 0.44, 0.19, 0.52, 0.38, 0.27, 0.57, 0.31, 0.46, 0.24, 0.53, 0.35, 0.29, 0.20, 0.55, 0.40,
0.26, 0.66, 0.32, 0.47, 0.23, 0.56, 0.37, 0.28, 0.51, 0.34, 0.25, 0.42, 0.66, 0.30, 0.48, 0.22, 0.59, 0.36, 0.27, 0.53,
0.33, 0.45, 0.24, 0.57, 0.31, 0.40, 0.21, 0.54, 0.38, 0.28, 0.62, 0.35, 0.26, 0.49, 0.32, 0.60, 0.29, 0.44, 0.23, 0.52,
0.37, 0.27, 0.56, 0.34, 0.25, 0.48, 0.31, 0.59, 0.22, 0.45, 0.36, 0.28, 0.53, 0.33, 0.41, 0.635, 0.26, 0.50, 0.35, 0.24,
0.58, 0.30, 0.46, 0.27, 0.55, 0.38, 0.22, 0.51, 0.34, 0.29, 0.57, 0.32, 0.43, 0.25, 0.60, 0.36, 0.28, 0.49, 0.24, 0.54,
0.31, 0.46, 0.805, 0.27, 0.52, 0.35, 0.23, 0.58, 0.33, 0.44, 0.26, 0.55, 0.37, 0.20, 0.50, 0.30, 0.61, 0.34, 0.25, 0.47,
0.39, 0.28, 0.53, 0.635, 0.32, 0.45, 0.24, 0.56, 0.36, 0.29, 0.51, 0.33, 0.22, 0.59, 0.38, 0.27, 0.48, 0.31, 0.54, 0.25,
0.44, 0.35, 0.62, 0.635, 0.28, 0.50, 0.34, 0.23, 0.57, 0.37, 0.26, 0.52, 0.185, 0.45, 0.61, 0.30, 0.49, 0.24, 0.55, 0.33,
0.28, 0.772, 0.36, 0.25, 0.51, 0.32, 0.46, 0.27, 0.58, 0.34, 0.23, 0.48, 0.37, 0.695, 0.29, 0.53, 0.31, 0.26, 0.77, 0.205,
]
var_w_chain2_b = [
0.36, 0.42, 0.31, 0.39, 0.44, 0.34, 0.38, 0.30, 0.45, 0.37, 0.41, 0.33, 0.43, 0.35, 0.29, 0.46, 0.38, 0.32, 0.40, 0.36,
0.44, 0.31, 0.39, 0.42, 0.34, 0.37, 0.47, 0.33, 0.40, 0.35, 0.30, 0.43, 0.38, 0.36, 0.45, 0.32, 0.41, 0.37, 0.29, 0.44,
0.34, 0.39, 0.42, 0.31, 0.38, 0.46, 0.35, 0.40, 0.33, 0.43, 0.37, 0.30, 0.41, 0.36, 0.44, 0.32, 0.39, 0.45, 0.34, 0.38,
0.42, 0.31, 0.40, 0.36, 0.47, 0.33, 0.37, 0.43, 0.30, 0.41, 0.35, 0.39, 0.44, 0.32, 0.38, 0.36, 0.45, 0.29, 0.42, 0.37,
0.34, 0.40, 0.46, 0.31, 0.39, 0.35, 0.43, 0.33, 0.38, 0.41, 0.30, 0.44, 0.36, 0.40, 0.32, 0.45, 0.37, 0.34, 0.42, 0.38,
0.31, 0.43, 0.35, 0.39, 0.46, 0.33, 0.40, 0.36, 0.29, 0.44, 0.37, 0.41, 0.32, 0.38, 0.45, 0.34, 0.42, 0.30, 0.39, 0.36,
0.43, 0.33, 0.40, 0.37, 0.31, 0.46, 0.35, 0.41, 0.38, 0.32, 0.44, 0.36, 0.39, 0.29, 0.42, 0.37, 0.45, 0.34, 0.40, 0.33,
0.38, 0.43, 0.30, 0.41, 0.36, 0.47, 0.34, 0.39, 0.35, 0.42, 0.31, 0.44, 0.37, 0.40, 0.32, 0.38, 0.46, 0.33, 0.41, 0.36,
0.30, 0.43, 0.39, 0.35, 0.45, 0.32, 0.40, 0.37, 0.42, 0.29, 0.44, 0.36, 0.38, 0.34, 0.46, 0.31, 0.41, 0.37, 0.43, 0.35,
0.39, 0.33, 0.45, 0.38, 0.30, 0.42, 0.36, 0.40, 0.34, 0.44, 0.37, 0.31, 0.43, 0.39, 0.35, 0.41, 0.32, 0.46, 0.38, 0.40,
]
var_w_chain2_c = [
0.37, 0.33, 0.41, 0.35, 0.43, 0.32, 0.39, 0.36, 0.42, 0.34, 0.38, 0.31, 0.44, 0.36, 0.40, 0.33, 0.42, 0.37, 0.35, 0.41,
0.32, 0.39, 0.43, 0.34, 0.38, 0.36, 0.31, 0.42, 0.37, 0.40, 0.33, 0.44, 0.35, 0.39, 0.32, 0.41, 0.36, 0.38, 0.34, 0.43,
0.37, 0.31, 0.40, 0.35, 0.42, 0.33, 0.39, 0.36, 0.44, 0.34, 0.38, 0.32, 0.41, 0.37, 0.35, 0.43, 0.33, 0.40, 0.36, 0.31,
0.42, 0.34, 0.39, 0.37, 0.32, 0.44, 0.35, 0.38, 0.33, 0.41, 0.36, 0.40, 0.31, 0.43, 0.37, 0.34, 0.42, 0.35, 0.39, 0.32,
0.38, 0.44, 0.33, 0.40, 0.36, 0.31, 0.41, 0.37, 0.34, 0.43, 0.35, 0.39, 0.32, 0.42, 0.36, 0.38, 0.33, 0.44, 0.37, 0.34,
0.40, 0.31, 0.41, 0.35, 0.39, 0.33, 0.43, 0.36, 0.38, 0.32, 0.42, 0.37, 0.34, 0.40, 0.31, 0.44, 0.35, 0.39, 0.36, 0.33,
0.41, 0.37, 0.32, 0.43, 0.34, 0.38, 0.36, 0.42, 0.31, 0.40, 0.35, 0.39, 0.33, 0.44, 0.37, 0.34, 0.41, 0.32, 0.38, 0.36,
0.43, 0.33, 0.40, 0.35, 0.31, 0.42, 0.37, 0.39, 0.34, 0.41, 0.36, 0.32, 0.44, 0.35, 0.38, 0.33, 0.40, 0.37, 0.42, 0.31,
0.39, 0.36, 0.34, 0.43, 0.32, 0.41, 0.37, 0.35, 0.40, 0.33, 0.44, 0.36, 0.38, 0.31, 0.42, 0.34, 0.39, 0.37, 0.35, 0.41,
0.33, 0.43, 0.36, 0.38, 0.32, 0.40, 0.34, 0.42, 0.37, 0.31, 0.39, 0.35, 0.44, 0.36, 0.41, 0.33, 0.38, 0.37, 0.43, 0.34,
]

y_ticks = [
    [4.25, 4.50, 4.75, 5.00, 5.25, 5.50, 5.75],
    [4.5, 5.0, 5.5, 6.0],
    [0.05, 0.10, 0.15, 0.20],
    [0.2, 0.3, 0.4, 0.5, 0.6, 0.7, 0.8],
]
y_formats = [".2f", ".1f", ".2f", ".1f"]


def merge(*lists):
    out = []
    for i in range(max(len(l) for l in lists)):
        for l in lists:
            if i < len(l):
                out.append(l[i])
    return out


chains = [
    (merge(intercept_chain1_a, intercept_chain1_b),
     merge(intercept_chain2_a, intercept_chain2_b, intercept_chain2_c)),
    (merge(var_e_chain1_a, var_e_chain1_b),
     merge(var_e_chain2_a, var_e_chain2_b, var_e_chain2_c)),
    (merge(var_x_chain1_a, var_x_chain1_b),
     merge(var_x_chain2_a, var_x_chain2_b, var_x_chain2_c)),
    (merge(var_w_chain1_a, var_w_chain1_b),
     merge(var_w_chain2_a, var_w_chain2_b, var_w_chain2_c)),
]
colors = ["#1f77b4", "#ff7f0e"]

W, H = 3051, 434
left0, step, pw = 66, 776, 647
top, bottom = 37, 367
font = "DejaVu Sans"

fig = go.Figure()
for k, (c1, c2) in enumerate(chains):
    xa = "x" if k == 0 else f"x{k+1}"
    ya = "y" if k == 0 else f"y{k+1}"
    for c, col in zip((c1, c2), colors):
        xs = np.linspace(0, n_draws - 1, len(c))
        fig.add_trace(go.Scatter(x=xs, y=c, mode="lines", xaxis=xa, yaxis=ya,
                                 line=dict(color=col, width=2.2, simplify=False),
                                 showlegend=False, hoverinfo="skip"))
    allv = list(c1) + list(c2)
    lo, hi = min(allv), max(allv)
    pad = (hi - lo) * 0.05
    x0 = (left0 + k * step) / W
    x1 = (left0 + k * step + pw) / W
    axcommon = dict(showline=True, linecolor="black", linewidth=1.2, mirror=True,
                    ticks="outside", ticklen=5, tickwidth=1.2, tickcolor="black",
                    showgrid=False, zeroline=False,
                    tickfont=dict(family=font, size=19.4, color="black"))
    fig.layout[("xaxis" if k == 0 else f"xaxis{k+1}")] = dict(
        domain=[x0, x1], anchor=ya, range=[-0.05 * (n_draws - 1), (n_draws - 1) * 1.05],
        tickvals=x_ticks, **axcommon)
    fig.layout[("yaxis" if k == 0 else f"yaxis{k+1}")] = dict(
        domain=[1 - bottom / H, 1 - top / H], anchor=xa, range=[lo - pad, hi + pad],
        tickvals=y_ticks[k], tickformat=y_formats[k], **axcommon)
    fig.add_annotation(text=titles[k], xref="paper", yref="paper",
                       x=(x0 + x1) / 2, y=1 - 21 / H, xanchor="center", yanchor="middle",
                       showarrow=False, font=dict(family=font, size=23.5, color="black"))
    fig.add_annotation(text=x_label, xref="paper", yref="paper",
                       x=(x0 + x1) / 2, y=1 - 413 / H, xanchor="center", yanchor="middle",
                       showarrow=False, font=dict(family=font, size=19.4, color="black"))

fig.update_layout(width=W, height=H, margin=dict(l=0, r=0, t=0, b=0),
                  plot_bgcolor="white", paper_bgcolor="white")
fig.write_html("out.html", config={"displayModeBar": False})
